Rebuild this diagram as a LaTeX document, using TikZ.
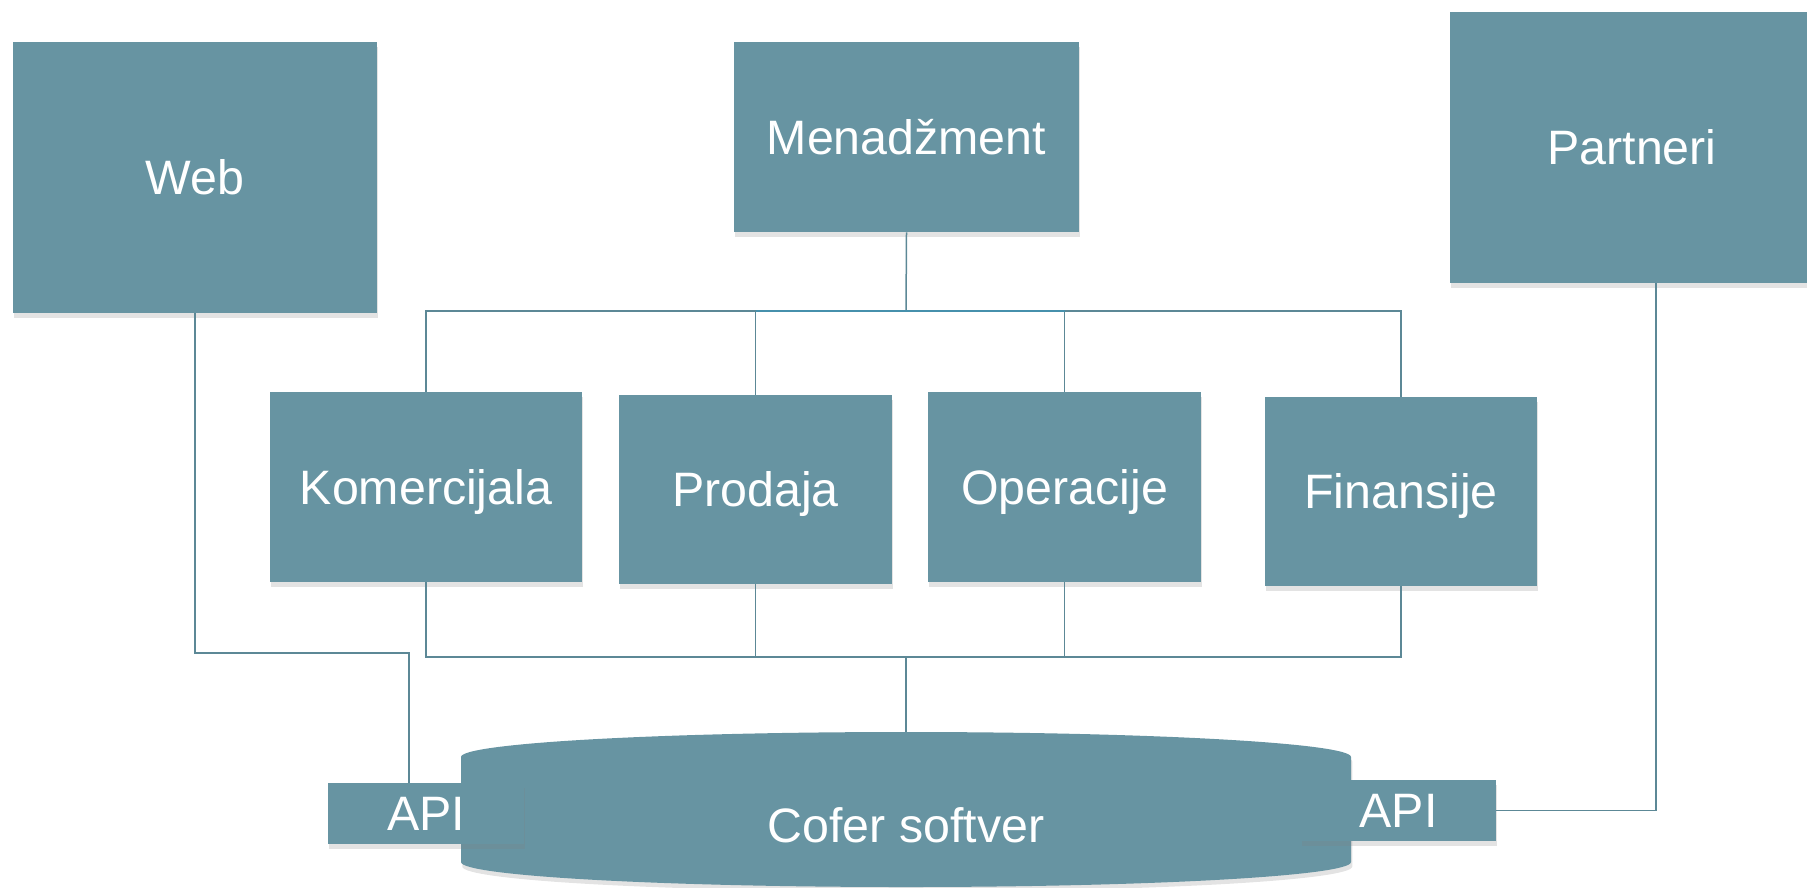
\documentclass[tikz,border=0pt]{standalone}
\usepackage{fontspec}
\setmainfont{Liberation Sans}
\usetikzlibrary{shadows}
\definecolor{boxteal}{RGB}{103,148,162}
\definecolor{lineteal}{RGB}{92,136,150}
\definecolor{busblue}{RGB}{70,144,172}
\begin{document}
\begin{tikzpicture}[x=0.2mm, y=-0.2mm,
		unit/.style={rectangle, fill=boxteal, text=white, inner sep=0pt,
			font=\fontsize{27.5}{33}\selectfont, text height=19.7pt, text depth=0pt,
			drop shadow={opacity=0.22, shadow xshift=0.25mm, shadow yshift=-0.9mm}},
		label/.style={text=white, font=\fontsize{27.5}{33}\selectfont, text height=19.7pt, text depth=0pt},
		link/.style={draw=lineteal, line width=0.3mm}]
	\useasboundingbox (0,0) rectangle (1807,887);
	\node[unit, minimum width=72.8mm, minimum height=54.2mm] (web) at (195,177.5) {Web};
	\node[unit, minimum width=69mm, minimum height=38mm] (menadzment) at (906.5,137) {Menadžment};
	\node[unit, minimum width=72.8mm, minimum height=54.2mm] (partneri) at (1632,147.5) {Partneri};
	\node[unit, minimum width=62.4mm, minimum height=38mm] (komercijala) at (426,487) {Komercijala};
	\node[unit, minimum width=54.6mm, minimum height=37.8mm] (prodaja) at (755.5,489.5) {Prodaja};
	\node[unit, minimum width=54.6mm, minimum height=38mm] (operacije) at (1064.5,487) {Operacije};
	\node[unit, minimum width=54.4mm, minimum height=37.8mm] (finansije) at (1401,491.5) {Finansije};
	\coordinate (topbus) at (906,311);
	\coordinate (bottombus) at (906,657);
	\coordinate (dbtop) at (906,732);
	\coordinate (webbend) at (409,653);
	\draw[link] (menadzment.south) -- (topbus);
	\draw[link] (komercijala.north) -- (komercijala.north |- topbus) -- (finansije.north |- topbus) -- (finansije.north);
	\foreach \n in {prodaja, operacije} \draw[link] (\n.north) -- (\n.north |- topbus);
	\draw[link, draw=busblue, line width=0.5mm] (prodaja.north |- topbus) -- (operacije.north |- topbus);
	\draw[link] (komercijala.south) -- (komercijala.south |- bottombus) -- (finansije.south |- bottombus) -- (finansije.south);
	\foreach \n in {prodaja, operacije} \draw[link] (\n.south) -- (\n.south |- bottombus);
	\draw[link] (bottombus) -- (dbtop);
	\fill[boxteal, drop shadow={opacity=0.22, shadow xshift=0.25mm, shadow yshift=-0.9mm}]
		(461,757) .. controls (461,743.2) and (660.4,732) .. (dbtop)
		.. controls (1151.6,732) and (1351,743.2) .. (1351,757) -- (1351,862)
		.. controls (1351,875.8) and (1151.6,887) .. (906,887)
		.. controls (660.4,887) and (461,875.8) .. (461,862) -- cycle;
	\node[label] (cofer) at (906,825) {Cofer softver};
	\node[unit, minimum width=39.2mm, minimum height=12.2mm] (apileft) at (426,813.5) {API};
	\node[unit, minimum width=39mm, minimum height=12.2mm] (apiright) at (1398.5,810.5) {API};
	\draw[link] (web.south) |- (webbend) -- (webbend |- apileft.north);
	\draw[link] ([xshift=4.8mm]partneri.south) |- (apiright.east);
\end{tikzpicture}
\end{document}
